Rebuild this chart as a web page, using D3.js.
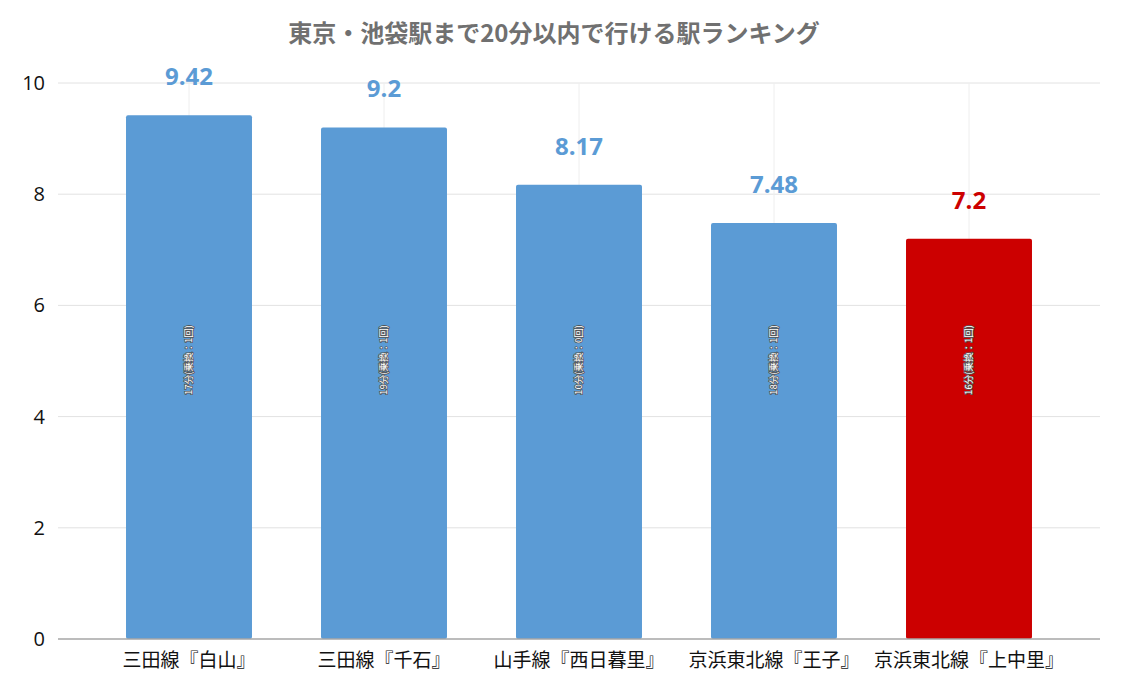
<!DOCTYPE html>
<html lang="ja">
<head>
<meta charset="UTF-8">
<title>東京・池袋駅まで20分以内で行ける駅ランキング</title>
<script src="https://d3js.org/d3.v7.min.js"></script>
<style>
  body { margin: 0; background: white; }
  svg { display: block; }
  text { font-family: "Open Sans", "Noto Sans CJK JP", sans-serif; }
</style>
</head>
<body>
<svg width="1121" height="689"></svg>
<script>
const stations = ["三田線『白山』", "三田線『千石』", "山手線『西日暮里』", "京浜東北線『王子』", "京浜東北線『上中里』"];
const scores = [9.42, 9.2, 8.17, 7.48, 7.2];
const notes = ["17分(乗換：1回)", "19分(乗換：1回)", "10分(乗換：0回)", "18分(乗換：1回)", "16分(乗換：1回)"];
const highlight = ["京浜東北線『上中里』"];
const yTicks = [0, 2, 4, 6, 8, 10];

const svg = d3.select("svg");
const plotLeft = 58, plotRight = 1100, plotTop = 83, plotBottom = 639;

const x = d3.scaleBand().domain(stations).range([91.5, 1066.5]).paddingInner(0.354).paddingOuter(0.177);
const y = d3.scaleLinear().domain([0, 10]).range([plotBottom, plotTop]);

const isRed = d => highlight.includes(d);
const blue = "#5b9bd5", red = "#cc0000";
const cx = d => x(d) + x.bandwidth() / 2;

// title
svg.append("text")
  .attr("x", 554).attr("y", 42)
  .attr("text-anchor", "middle")
  .attr("font-size", 24).attr("font-weight", "bold")
  .attr("fill", "#707070")
  .style("font-family", "'Noto Sans CJK JP', sans-serif")
  .text("東京・池袋駅まで20分以内で行ける駅ランキング");

// horizontal gridlines
svg.append("g").selectAll("line").data(yTicks.filter(d => d > 0)).join("line")
  .attr("x1", plotLeft).attr("x2", plotRight)
  .attr("y1", d => y(d)).attr("y2", d => y(d))
  .attr("stroke", "#e2e2e2").attr("stroke-width", 1);

// vertical gridlines at category centres
svg.append("g").selectAll("line").data(stations).join("line")
  .attr("x1", cx).attr("x2", cx)
  .attr("y1", plotTop).attr("y2", plotBottom)
  .attr("stroke", "#eeeeee").attr("stroke-width", 1);

// y tick labels
svg.append("g").selectAll("text").data(yTicks).join("text")
  .attr("x", 45).attr("y", d => y(d))
  .attr("dy", "0.35em")
  .attr("text-anchor", "end")
  .attr("font-size", 20).attr("fill", "#111")
  .text(d => d);

// bars
svg.append("g").selectAll("rect").data(stations).join("rect")
  .attr("x", d => x(d))
  .attr("y", (d, i) => y(scores[i]))
  .attr("width", x.bandwidth())
  .attr("height", (d, i) => y(0) - y(scores[i]))
  .attr("rx", 2)
  .attr("fill", d => isRed(d) ? red : blue);

// axis line
svg.append("line")
  .attr("x1", plotLeft).attr("x2", plotRight)
  .attr("y1", plotBottom).attr("y2", plotBottom)
  .attr("stroke", "#a6a6a6").attr("stroke-width", 1.5);

// value labels
svg.append("g").selectAll("text").data(stations).join("text")
  .attr("x", cx)
  .attr("y", (d, i) => y(scores[i]) - 30)
  .attr("text-anchor", "middle")
  .attr("font-size", 24).attr("font-weight", "bold")
  .attr("fill", d => isRed(d) ? red : blue)
  .text((d, i) => scores[i]);

// rotated notes inside bars
svg.append("g").selectAll("text").data(stations).join("text")
  .attr("transform", d => `translate(${cx(d)},360) rotate(-90)`)
  .attr("text-anchor", "middle")
  .attr("dy", "0.35em")
  .attr("font-size", 9.5)
  .attr("fill", "white")
  .attr("stroke", "#555").attr("stroke-width", 1.6)
  .attr("paint-order", "stroke")
  .style("font-family", "'Noto Sans CJK JP', sans-serif")
  .text((d, i) => notes[i]);

// x labels
svg.append("g").selectAll("text").data(stations).join("text")
  .attr("x", cx)
  .attr("y", 667)
  .attr("text-anchor", "middle")
  .attr("font-size", 19).attr("fill", "#111")
  .style("font-family", "'Noto Sans CJK JP', sans-serif")
  .text(d => d);
</script>
</body>
</html>
